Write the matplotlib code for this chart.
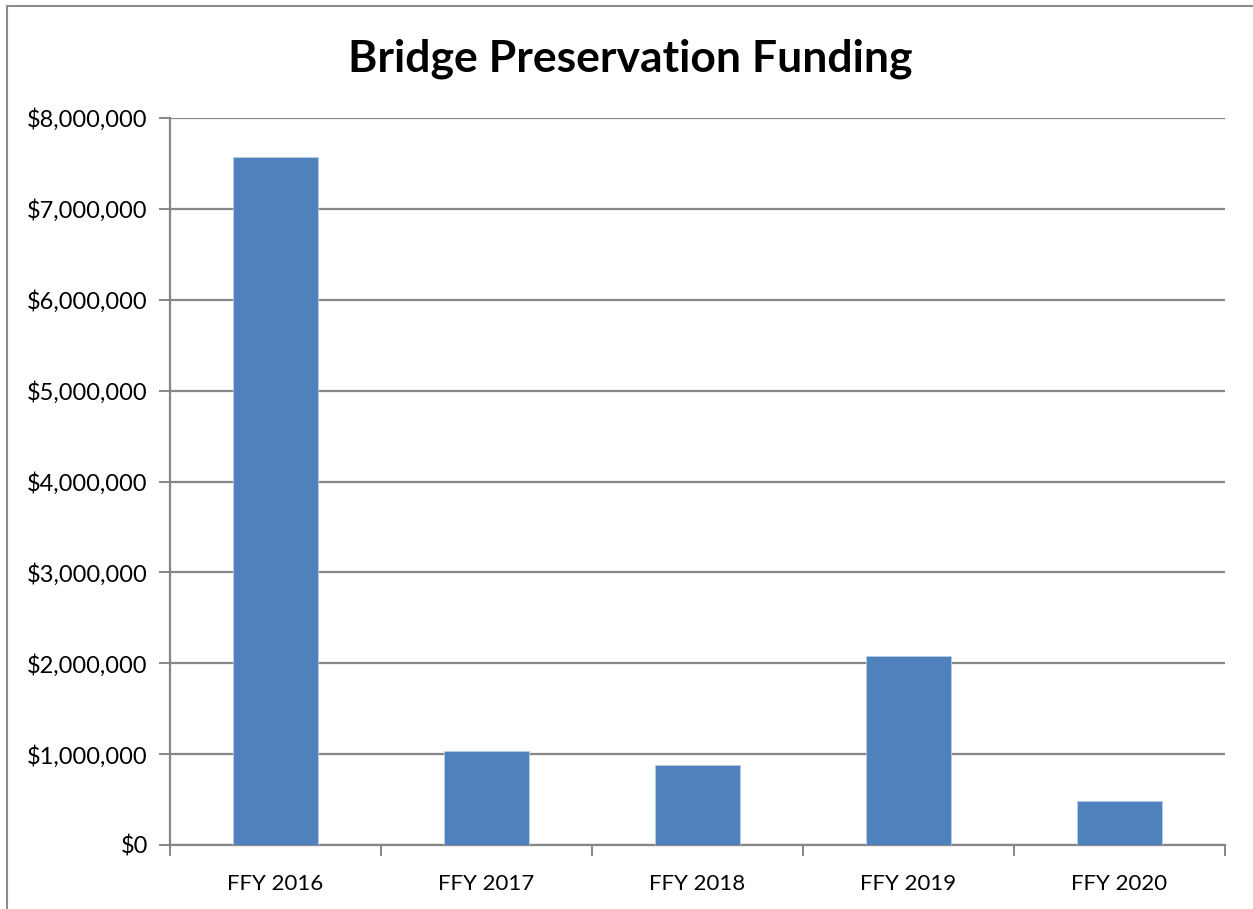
import numpy as np
import matplotlib.pyplot as plt
from matplotlib.lines import Line2D
from matplotlib.ticker import FuncFormatter

years = ["FFY 2016", "FFY 2017", "FFY 2018", "FFY 2019", "FFY 2020"]
funding = [7575000, 1035000, 880000, 2080000, 485000]
yticks = [0, 1000000, 2000000, 3000000, 4000000, 5000000, 6000000, 7000000, 8000000]

plt.rcParams['font.family'] = ['Lato', 'DejaVu Sans']

W, H = 1253, 909
fig = plt.figure(figsize=(W / 100, H / 100), dpi=100)
ax = fig.add_axes([170 / W, 1 - 845 / H, (1225 - 170) / W, (845 - 118) / H])

x = np.arange(len(years))
ax.bar(x, funding, width=0.40, color="#4f81bd", edgecolor="#b9cde5", linewidth=0.6, zorder=3)

ax.set_xlim(-0.5, len(years) - 0.5)
ax.set_ylim(0, 8000000)
ax.set_yticks(yticks)
ax.yaxis.set_major_formatter(FuncFormatter(lambda v, p: "${:,.0f}".format(v)))
ax.grid(axis="y", color="#868686", linewidth=1.6, zorder=0)

# category ticks sit between the bars
ax.set_xticks(x)
ax.set_xticklabels(years)
ax.set_xticks(np.arange(len(years) + 1) - 0.5, minor=True)
ax.tick_params(axis="x", which="major", length=0, pad=21, labelsize=16)
ax.tick_params(axis="x", which="minor", length=8, width=1.4, color="#868686", direction="out")
ax.tick_params(axis="y", length=8, width=1.4, color="#868686", pad=8, labelsize=17)

for s in ["top", "right"]:
    ax.spines[s].set_visible(False)
for s in ["left", "bottom"]:
    ax.spines[s].set_color("#868686")
    ax.spines[s].set_linewidth(1.6)

fig.text(630 / W, 1 - 59 / H, "Bridge Preservation Funding", ha="center", va="center",
         fontsize=32, fontweight="bold")

# outer chart frame (left and top edges)
fig.add_artist(Line2D([7 / W, 7 / W], [0, 1 - 6 / H], transform=fig.transFigure, color="#8c8c8c", linewidth=1.5))
fig.add_artist(Line2D([7 / W, 1], [1 - 6 / H, 1 - 6 / H], transform=fig.transFigure, color="#8c8c8c", linewidth=1.5))

fig.savefig("out.png", dpi=100)
